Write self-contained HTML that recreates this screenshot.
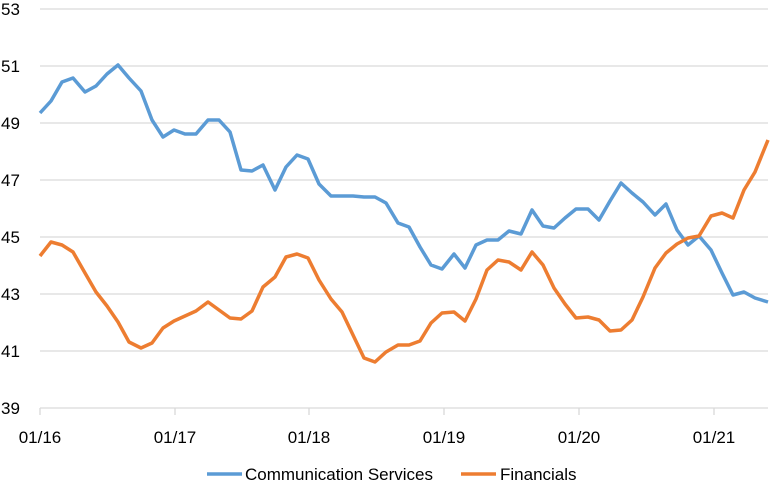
<!DOCTYPE html>
<html><head><meta charset="utf-8"><style>
html,body{margin:0;padding:0;background:#fff;}
svg{display:block;font-family:"Liberation Sans",sans-serif;}
</style></head><body>
<svg width="770" height="483" viewBox="0 0 770 483">
<g stroke="#d9d9d9" stroke-width="1.3">
<line x1="40" x2="768" y1="9" y2="9"/><line x1="40" x2="768" y1="66" y2="66"/><line x1="40" x2="768" y1="123" y2="123"/><line x1="40" x2="768" y1="180" y2="180"/><line x1="40" x2="768" y1="237" y2="237"/><line x1="40" x2="768" y1="294" y2="294"/><line x1="40" x2="768" y1="351" y2="351"/><line x1="40" x2="768" y1="408" y2="408"/>
<line x1="40" x2="40" y1="408" y2="415"/><line x1="175" x2="175" y1="408" y2="415"/><line x1="309" x2="309" y1="408" y2="415"/><line x1="444" x2="444" y1="408" y2="415"/><line x1="579" x2="579" y1="408" y2="415"/><line x1="714" x2="714" y1="408" y2="415"/>
</g>
<g font-size="17" fill="#000">
<text x="1" y="15">53</text><text x="1" y="72">51</text><text x="1" y="129">49</text><text x="1" y="186">47</text><text x="1" y="243">45</text><text x="1" y="300">43</text><text x="1" y="357">41</text><text x="1" y="414">39</text>
<g text-anchor="middle"><text x="40" y="443">01/16</text><text x="175" y="443">01/17</text><text x="309" y="443">01/18</text><text x="444" y="443">01/19</text><text x="579" y="443">01/20</text><text x="714" y="443">01/21</text></g>
</g>
<polyline fill="none" stroke="#5b9bd5" stroke-width="3.5" stroke-linejoin="round" points="40,113 51,101 62,82 73,78 85,92 96,86 107,74 118,65 129,78 141,91 152,120 163,137 174,130 185,134 196,134 208,120 219,120 230,132 241,170 252,171 263,165 275,190 286,167 297,155 308,159 319,184 331,196 342,196 353,196 364,197 375,197 386,203 398,223 409,227 420,247 431,265 442,269 454,254 465,268 476,245 487,240 498,240 509,231 521,234 532,210 543,226 554,228 565,218 576,209 588,209 599,220 610,201 621,183 632,193 643,202 655,215 666,204 677,230 688,245 699,236 711,250 722,273 733,295 744,292 755,298 768,302"/>
<polyline fill="none" stroke="#ed7d31" stroke-width="3.5" stroke-linejoin="round" points="40,256 51,242 62,245 73,252 85,273 96,292 107,306 118,322 129,342 141,348 152,343 163,328 174,321 185,316 196,311 208,302 219,310 230,318 241,319 252,311 263,287 275,277 286,257 297,254 308,258 319,280 331,299 342,312 353,335 364,358 375,362 386,352 398,345 409,345 420,341 431,323 442,313 454,312 465,321 476,299 487,270 498,260 509,262 521,270 532,252 543,265 554,288 565,304 576,318 588,317 599,320 610,331 621,330 632,320 643,297 655,268 666,253 677,244 688,238 699,236 711,216 722,213 733,218 744,190 755,172 768,140"/>
<line x1="207" x2="242" y1="474" y2="474" stroke="#5b9bd5" stroke-width="3.5"/>
<line x1="461" x2="496" y1="474" y2="474" stroke="#ed7d31" stroke-width="3.5"/>
<g font-size="17" fill="#000"><text x="245" y="480">Communication Services</text><text x="500" y="480">Financials</text></g>
</svg>
</body></html>
